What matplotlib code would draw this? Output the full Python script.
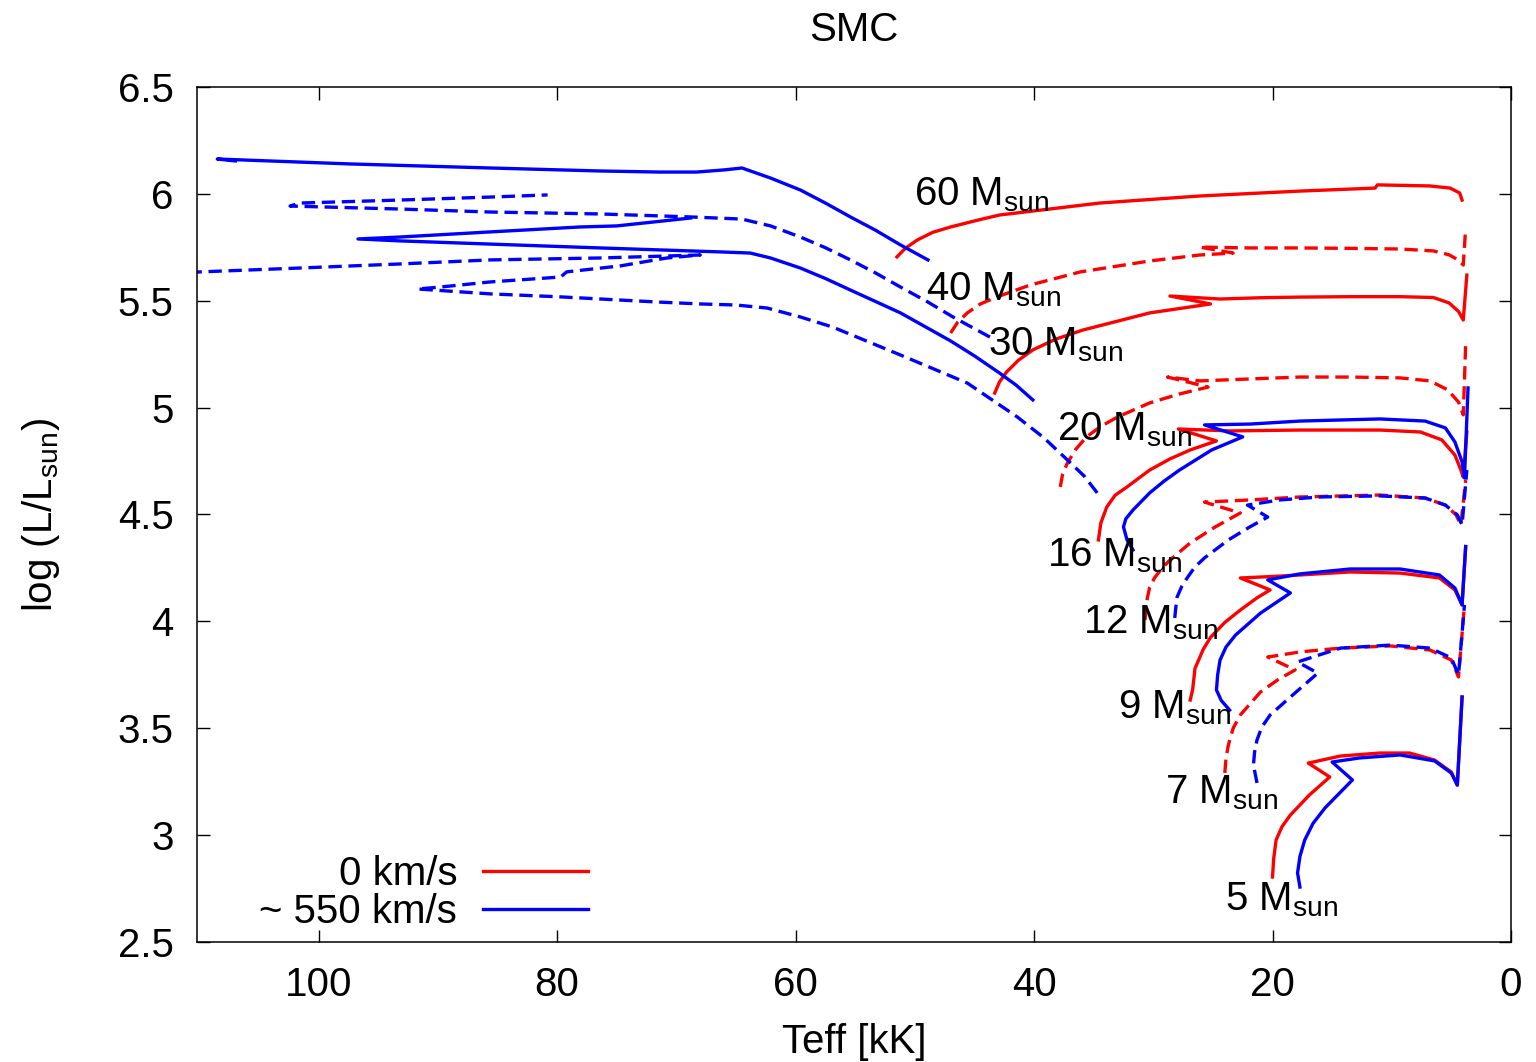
import numpy as np
import matplotlib
matplotlib.use('Agg')
from matplotlib import pyplot as plt
from matplotlib.lines import Line2D

plt.rcParams['font.family'] = ['Liberation Sans', 'DejaVu Sans']
plt.rcParams['mathtext.fontset'] = 'custom'
plt.rcParams['mathtext.rm'] = 'Liberation Sans'
plt.rcParams['mathtext.it'] = 'Liberation Sans:italic'

# ---- 0 km/s tracks (red) : Teff [kK], log L ----
t60_0 = [51.5, 50.8, 49.8, 48.5, 47.0, 44.8, 42.9, 38.7, 34.5, 26.1, 17.7, 11.4, 11.2, 6.8, 5.1, 4.3, 4.1]
l60_0 = [5.705, 5.745, 5.784, 5.82, 5.845, 5.876, 5.901, 5.929, 5.957, 5.990, 6.013, 6.027, 6.042, 6.037, 6.027, 6.004, 5.971]

t40_0 = [47.0, 46.4, 45.6, 44.5, 43.1, 40.3, 36.1, 30.3, 26.1, 23.3, 26.1, 21.9, 17.7, 13.5, 9.3, 6.5, 5.2, 4.4, 4.0, 3.8]
l40_0 = [5.349, 5.40, 5.443, 5.485, 5.518, 5.574, 5.635, 5.686, 5.714, 5.723, 5.751, 5.747, 5.747, 5.745, 5.742, 5.733, 5.715, 5.69, 5.667, 5.84]

t30_0 = [43.3, 42.9, 42.3, 41.3, 40.1, 38.2, 35.9, 30.3, 25.2, 28.6, 24.4, 21.0, 17.7, 13.5, 9.3, 6.5, 5.2, 4.4, 4.0, 3.7]
l30_0 = [5.068, 5.12, 5.167, 5.222, 5.270, 5.32, 5.363, 5.443, 5.485, 5.522, 5.508, 5.514, 5.517, 5.519, 5.519, 5.515, 5.49, 5.45, 5.41, 5.62]

t20_0 = [37.8, 37.6, 37.2, 36.5, 35.6, 34.4, 33.0, 30.3, 27.8, 25.4, 28.8, 26.1, 21.9, 17.7, 13.5, 9.3, 6.8, 5.3, 4.4, 4.0, 3.8]
l20_0 = [4.629, 4.69, 4.741, 4.805, 4.863, 4.912, 4.956, 5.022, 5.064, 5.096, 5.143, 5.125, 5.134, 5.143, 5.143, 5.139, 5.125, 5.083, 5.026, 4.966, 5.293]

t16_0 = [34.6, 34.4, 33.9, 33.2, 32.2, 30.3, 28.6, 26.9, 24.7, 27.9, 23.6, 17.7, 11.0, 7.6, 5.8, 4.7, 4.2, 4.0, 3.7]
l16_0 = [4.381, 4.46, 4.535, 4.59, 4.629, 4.708, 4.76, 4.802, 4.844, 4.900, 4.891, 4.895, 4.895, 4.886, 4.849, 4.778, 4.708, 4.675, 4.886]

t12_0 = [30.7, 30.6, 30.5, 30.3, 29.9, 29.3, 28.6, 26.9, 24.8, 22.7, 25.7, 21.9, 17.7, 11.0, 7.2, 5.5, 4.6, 4.2, 3.8]
l12_0 = [4.006, 4.06, 4.109, 4.16, 4.203, 4.247, 4.287, 4.367, 4.442, 4.507, 4.558, 4.568, 4.582, 4.591, 4.577, 4.544, 4.498, 4.451, 4.661]

t9_0 = [26.9, 26.7, 26.6, 26.5, 25.8, 25.2, 24.0, 22.7, 21.3, 20.2, 22.7, 20.0, 17.7, 13.5, 9.3, 6.0, 4.7, 4.1, 3.8]
l9_0 = [3.632, 3.68, 3.73, 3.78, 3.87, 3.925, 3.995, 4.053, 4.11, 4.147, 4.203, 4.21, 4.217, 4.231, 4.226, 4.203, 4.147, 4.077, 4.35]

t7_0 = [24.0, 23.9, 23.7, 23.3, 22.7, 21.0, 19.6, 18.1, 20.4, 17.7, 14.3, 10.1, 6.8, 5.0, 4.4, 3.9]
l7_0 = [3.291, 3.36, 3.422, 3.50, 3.562, 3.67, 3.725, 3.773, 3.833, 3.857, 3.875, 3.885, 3.866, 3.819, 3.74, 4.077]

t5_0 = [20.0, 19.9, 19.7, 19.2, 18.5, 16.9, 15.2, 17.0, 14.3, 11.0, 8.5, 6.4, 5.0, 4.5, 4.1]
l5_0 = [2.804, 2.89, 2.977, 3.04, 3.094, 3.188, 3.272, 3.337, 3.37, 3.384, 3.384, 3.351, 3.295, 3.234, 3.646]

# ---- ~550 km/s tracks (blue) ----
t60_r = [48.9, 51.2, 53.3, 55.4, 57.5, 59.6, 62.1, 64.5, 66.0, 68.3, 71.4, 76.4, 85.6, 97.4, 108.5, 107.0]
l60_r = [5.691, 5.761, 5.83, 5.892, 5.957, 6.018, 6.074, 6.121, 6.112, 6.102, 6.102, 6.107, 6.121, 6.14, 6.163, 6.154]

t40_r = [43.7, 46.8, 49.0, 51.2, 53.3, 55.4, 57.5, 59.6, 62.1, 64.5, 68.8, 76.4, 85.6, 93.2, 102.4, 101.6, 93.2, 85.6, 80.8]
l40_r = [5.33, 5.424, 5.497, 5.564, 5.63, 5.691, 5.748, 5.798, 5.85, 5.882, 5.892, 5.906, 5.915, 5.929, 5.943, 5.957, 5.971, 5.985, 5.995]

t30_r = [40.1, 41.5, 42.9, 45.0, 47.0, 51.2, 55.4, 57.5, 59.6, 62.1, 63.8, 66.1, 76.4, 85.6, 93.2, 96.7, 93.2, 85.6, 78.1, 75.0, 68.8]
l30_r = [5.036, 5.105, 5.162, 5.242, 5.312, 5.443, 5.55, 5.604, 5.653, 5.70, 5.723, 5.728, 5.747, 5.765, 5.78, 5.789, 5.798, 5.822, 5.845, 5.85, 5.887]

t20_r = [34.7, 35.8, 37.2, 39.2, 41.4, 45.6, 51.2, 56.9, 59.6, 62.4, 65.0, 68.0, 71.6, 79.7, 85.6, 91.7, 89.8, 85.6, 79.7, 79.2,
         74.7, 70.8, 68.0, 76.4, 85.6, 93.2, 101.6, 109.9, 111.6]
l20_r = [4.601, 4.68, 4.755, 4.86, 4.956, 5.115, 5.246, 5.377, 5.424, 5.466, 5.48, 5.485, 5.494, 5.518, 5.532, 5.555, 5.564, 5.588, 5.611, 5.635,
         5.663, 5.70, 5.714, 5.70, 5.691, 5.672, 5.653, 5.635, 5.63]

t16_r = [31.7, 32.2, 32.5, 32.3, 31.7, 30.3, 29.1, 27.8, 25.1, 22.5, 25.7, 21.9, 17.7, 11.0, 7.2, 5.5, 4.7, 4.1, 3.9, 3.6]
l16_r = [4.334, 4.381, 4.442, 4.48, 4.521, 4.601, 4.656, 4.708, 4.802, 4.863, 4.919, 4.923, 4.937, 4.947, 4.937, 4.905, 4.839, 4.746, 4.671, 5.092]

t12_r = [28.2, 28.1, 28.0, 27.6, 27.1, 26.5, 25.7, 23.7, 21.9, 20.4, 22.1, 19.4, 16.0, 11.0, 7.2, 5.5, 4.5, 4.1, 3.7]
l12_r = [4.016, 4.07, 4.114, 4.165, 4.208, 4.255, 4.297, 4.381, 4.442, 4.488, 4.544, 4.568, 4.582, 4.587, 4.577, 4.544, 4.498, 4.451, 4.708]

t9_r = [23.6, 24.3, 24.7, 24.6, 24.4, 23.9, 23.1, 21.0, 18.5, 20.4, 17.7, 13.5, 9.3, 6.0, 4.7, 4.1, 3.8]
l9_r = [3.585, 3.63, 3.679, 3.75, 3.819, 3.88, 3.936, 4.039, 4.133, 4.194, 4.222, 4.245, 4.245, 4.217, 4.156, 4.077, 4.35]

t7_r = [21.3, 21.6, 21.5, 21.3, 20.9, 20.2, 18.5, 16.2, 17.9, 14.3, 10.1, 6.8, 5.0, 4.4, 3.9]
l7_r = [3.244, 3.328, 3.39, 3.445, 3.505, 3.562, 3.646, 3.758, 3.81, 3.875, 3.889, 3.875, 3.829, 3.749, 4.077]

t5_r = [17.7, 17.9, 17.7, 17.3, 16.6, 15.6, 13.3, 15.0, 12.7, 9.3, 6.4, 5.0, 4.5, 4.1]
l5_r = [2.757, 2.823, 2.90, 2.977, 3.055, 3.127, 3.258, 3.342, 3.361, 3.375, 3.347, 3.29, 3.234, 3.646]

masses = [60, 40, 30, 20, 16, 12, 9, 7, 5]
tracks_0 = [(t60_0, l60_0), (t40_0, l40_0), (t30_0, l30_0), (t20_0, l20_0), (t16_0, l16_0),
            (t12_0, l12_0), (t9_0, l9_0), (t7_0, l7_0), (t5_0, l5_0)]
tracks_r = [(t60_r, l60_r), (t40_r, l40_r), (t30_r, l30_r), (t20_r, l20_r), (t16_r, l16_r),
            (t12_r, l12_r), (t9_r, l9_r), (t7_r, l7_r), (t5_r, l5_r)]

# label anchor (left edge, vertical centre of the number)
lab_t = [50.1, 49.1, 43.9, 38.1, 38.9, 35.9, 33.0, 29.0, 24.0]
lab_l = [6.018, 5.574, 5.316, 4.919, 4.325, 4.016, 3.618, 3.22, 2.72]

fs = 29
fig = plt.figure(figsize=(15.36, 10.62), dpi=100)
ax = fig.add_axes([0.1283, 0.1130, 0.8554, 0.8051])

lw = 2.4
for i, m in enumerate(masses):
    ls = '-' if i % 2 == 0 else (0, (4, 2))
    ax.plot(tracks_0[i][0], tracks_0[i][1], color='#ff0000', lw=lw, linestyle=ls)
    ax.plot(tracks_r[i][0], tracks_r[i][1], color='#0000ff', lw=lw, linestyle=ls)
    ax.text(lab_t[i], lab_l[i], r'%d M$_{\rm sun}$' % m, fontsize=fs, ha='left', va='center_baseline')

ax.set_xlim(110.2, 0)
ax.set_ylim(2.5, 6.5)
ax.set_xticks([100, 80, 60, 40, 20, 0])
ax.set_yticks(np.arange(2.5, 6.51, 0.5))
ax.yaxis.set_major_formatter(matplotlib.ticker.FormatStrFormatter('%g'))
ax.tick_params(direction='in', length=9, width=1, top=True, right=True, labelsize=fs, pad=17)
for s in ax.spines.values():
    s.set_linewidth(1.1)

ax.set_title('SMC', fontsize=fs, pad=33)
ax.set_xlabel('Teff [kK]', fontsize=fs, labelpad=14)
ax.set_ylabel(r'log (L/L$_{\rm sun}$)', fontsize=fs, labelpad=40)

handles = [Line2D([], [], color='#ff0000', lw=lw), Line2D([], [], color='#0000ff', lw=lw)]
ax.legend(handles, ['0 km/s', '~ 550 km/s'], loc='lower right', bbox_to_anchor=(0.2976, 0.013),
          frameon=False, markerfirst=False, fontsize=fs, handlelength=2.6, handletextpad=0.65,
          labelspacing=0.0, borderpad=0, borderaxespad=0)

fig.savefig('out.png', dpi=100)
